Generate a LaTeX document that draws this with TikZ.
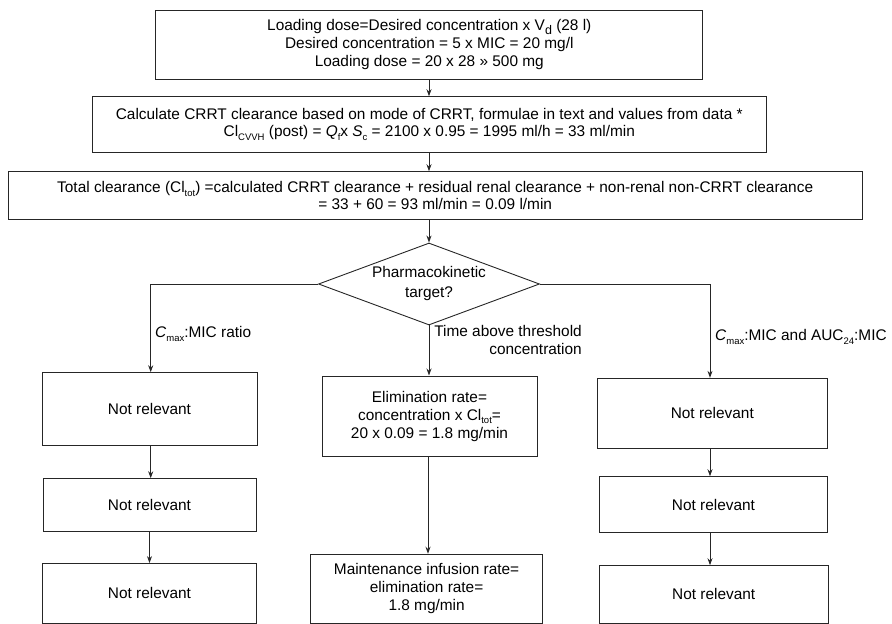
\documentclass[tikz,border=0pt]{standalone}
\usepackage{fontspec}
\setmainfont{Liberation Sans}
\usetikzlibrary{arrows.meta,shapes.geometric}
\newcommand{\sbs}[1]{\raisebox{-0.45ex}{\fontsize{9.5}{9.5}\selectfont #1}}
\newcommand{\sbd}[1]{\raisebox{-0.4ex}{\fontsize{12.5}{12.5}\selectfont #1}}
\tikzset{
  box/.style={draw=black!85, line width=0.9pt, rectangle, inner sep=0pt, align=center,
    font=\fontsize{15.4}{18}\selectfont},
  dec/.style={draw=black!85, line width=0.9pt, diamond, inner sep=0pt, align=center,
    minimum width=221pt, minimum height=82pt, aspect=2.7, font=\fontsize{15.4}{20}\selectfont},
  lbl/.style={inner sep=0pt, font=\fontsize{15.4}{18.5}\selectfont},
  conn/.style={draw=black!85, line width=0.9pt},
  arr/.style={conn, -{Stealth[length=7pt,width=5pt]}}
}
\begin{document}
\begin{tikzpicture}[x=1pt,y=-1pt]
\useasboundingbox (0,0) rectangle (892,624);
% top boxes
\node[box, minimum width=547pt, minimum height=68.6pt] (b1) at (429.3,45)
  {Loading dose=Desired concentration x V\sbd{d} (28 l)\\
   Desired concentration = 5 x MIC = 20 mg/l\\
   Loading dose = 20 x 28 » 500 mg};
\node[box, minimum width=673.3pt, minimum height=55.6pt, font=\fontsize{15.4}{17}\selectfont] (b2) at (429.3,124.5)
  {Calculate CRRT clearance based on mode of CRRT, formulae in text and values from data *\\
   Cl\sbs{CVVH} (post) = \textit{Q}\sbs{f}x \textit{S}\sbs{c} = 2100 x 0.95 = 1995 ml/h = 33 ml/min};
\node[box, minimum width=853.7pt, minimum height=47.6pt, font=\fontsize{15.4}{16.7}\selectfont] (b3) at (435.2,195.5)
  {Total clearance (Cl\sbs{tot}) =calculated CRRT clearance + residual renal clearance + non-renal non-CRRT clearance\\
   = 33 + 60 = 93 ml/min = 0.09 l/min};
% decision
\node[dec] (dia) at (429,284) {Pharmacokinetic\\target?};
% left column
\node[box, minimum width=215pt, minimum height=73pt] (a1) at (149.5,409.2) {Not relevant};
\node[box, minimum width=213pt, minimum height=53pt] (a2) at (149.5,505.2) {Not relevant};
\node[box, minimum width=214.5pt, minimum height=59.5pt] (a3) at (149.5,593.3) {Not relevant};
% centre column
\node[box, minimum width=215pt, minimum height=80.7pt] (c1) at (429.5,416.3)
  {Elimination rate=\\concentration x Cl\sbs{tot}=\\20 x 0.09 = 1.8 mg/min};
\node[box, minimum width=232pt, minimum height=69pt] (c2) at (426.6,588.7)
  {Maintenance infusion rate=\\elimination rate=\\1.8 mg/min};
% right column
\node[box, minimum width=230.6pt, minimum height=70pt] (r1) at (712.3,413.3) {Not relevant};
\node[box, minimum width=228pt, minimum height=56pt] (r2) at (713.5,504.7) {Not relevant};
\node[box, minimum width=228.5pt, minimum height=57.3pt] (r3) at (713.7,594.3) {Not relevant};
% coordinates for branch corners
\coordinate (lc) at (150.7,284);
\coordinate (rc) at (710,284);
% connectors
\draw[arr] (dia.north |- b1.south) -- (dia.north |- b2.north);
\draw[arr] (dia.north |- b2.south) -- (dia.north |- b3.north);
\draw[arr] (dia.north |- b3.south) -- (dia.north);
\draw[arr] (dia.west) -- (lc) -- (lc |- a1.north);
\draw[arr] (dia.east) -- (rc) -- (rc |- r1.north);
\draw[arr] (dia.south) -- (dia.south |- c1.north);
\draw[arr] (lc |- a1.south) -- (lc |- a2.north);
\draw[arr] (a2.south) -- (a3.north);
\draw[arr] (rc |- r1.south) -- (rc |- r2.north);
\draw[arr] (rc |- r2.south) -- (rc |- r3.north);
\draw[arr] ([xshift=-1.5pt]c1.south) -- ([xshift=-1.5pt]c1.south |- c2.north);
% labels
\node[lbl, anchor=west] (l1) at (155,334) {\textit{C}\sbs{max}:MIC ratio};
\node[lbl, anchor=north east, align=right] (l2) at (582,325) {Time above threshold\\concentration};
\node[lbl, anchor=west] (l3) at (715,337) {\textit{C}\sbs{max}:MIC and AUC\sbs{24}:MIC};
\end{tikzpicture}
\end{document}
